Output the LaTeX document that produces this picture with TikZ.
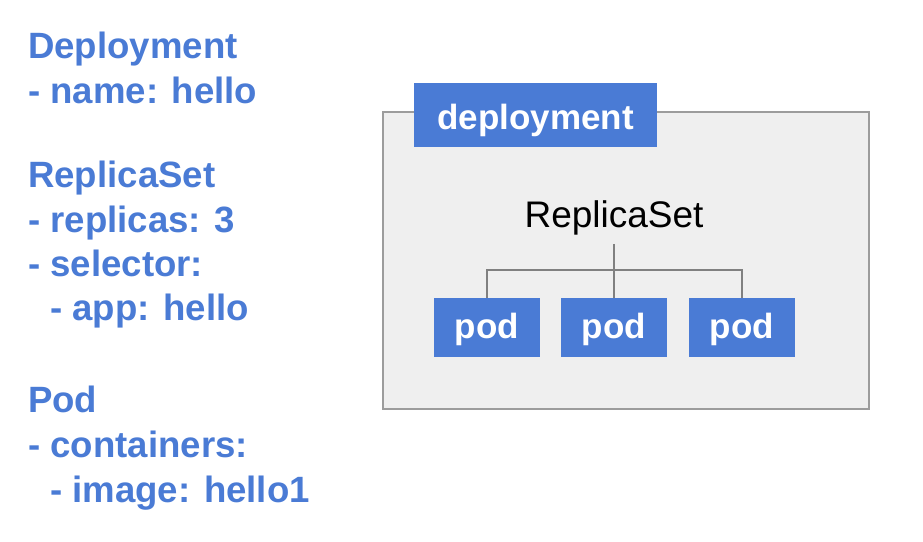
\documentclass[tikz,border=0pt]{standalone}
\usepackage{fontspec}
\setmainfont{Liberation Sans}
\definecolor{kblue}{HTML}{4A7BD5}
\definecolor{kgrayfill}{HTML}{EFEFEF}
\definecolor{kborder}{HTML}{9C9C9C}
\definecolor{kline}{HTML}{808080}
\begin{document}
\begin{tikzpicture}[x=1pt,y=-1pt,
  spec/.style={anchor=base west,inner sep=0pt,text=kblue,font=\fontsize{36.6}{44}\selectfont\bfseries},
  bluebox/.style={fill=kblue,draw=none,text=white,inner sep=0pt,font=\fontsize{35}{42}\selectfont\bfseries},
  podbox/.style={bluebox,minimum width=106pt,minimum height=59pt,text height=21pt,text depth=0pt},
  tree/.style={draw=kline,line width=1.6pt}]
\useasboundingbox (0,0) rectangle (923,541);
\fill[white] (0,0) rectangle (923,541);
% left specification text
\node[spec] (t1) at (28,58) {Deployment};
\node[spec] (t2) at (28,103) {- name: hello};
\node[spec] (t3) at (28,187) {ReplicaSet};
\node[spec] (t4) at (28,232) {- replicas: 3};
\node[spec] (t5) at (28,276) {- selector:};
\node[spec] (t6) at (50,320) {- app: hello};
\node[spec] (t7) at (28,412) {Pod};
\node[spec] (t8) at (28,457) {- containers:};
\node[spec] (t9) at (50,502) {- image: hello1};
% deployment frame
\node[draw=kborder,fill=kgrayfill,line width=1.8pt,minimum width=486pt,minimum height=297pt,inner sep=0pt] (frame) at (626,260.5) {};
\node[bluebox,minimum width=243pt,minimum height=64pt,text height=28pt,text depth=0pt] (dep) at (535.5,115) {deployment};
% replicaset
\node[anchor=base,inner sep=0pt,font=\fontsize{37}{44}\selectfont] (rs) at (614,227) {ReplicaSet};
% pods
\node[podbox] (pod1) at (487,327.5) {pod};
\node[podbox] (pod2) at (614,327.5) {pod};
\node[podbox] (pod3) at (742,327.5) {pod};
% tree connectors
\draw[tree] ([yshift=-9pt]rs.south) -- (pod2.north);
\draw[tree] (pod1.north) -- ++(0,-28) -| (pod3.north);
\end{tikzpicture}
\end{document}
